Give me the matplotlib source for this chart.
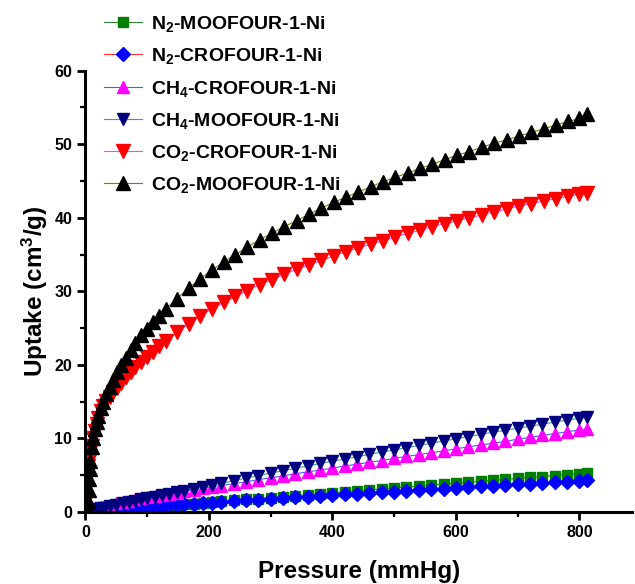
import matplotlib
matplotlib.use("Agg")
import matplotlib.pyplot as plt
from matplotlib.ticker import MultipleLocator

plt.rcParams['font.family'] = ['Liberation Sans', 'DejaVu Sans']
plt.rcParams['font.weight'] = 'bold'
plt.rcParams['mathtext.fontset'] = 'custom'
plt.rcParams['mathtext.rm'] = 'Liberation Sans:bold'
plt.rcParams['mathtext.default'] = 'rm'

# CO2 isotherms (mmHg, cm3/g)
pressure_co2 = [0.5, 1, 2, 3, 4, 5, 6, 7, 8, 10, 12, 15, 18, 21, 25, 29, 34, 39,
                45, 51, 58, 65, 73, 81, 90, 99, 109, 119, 130, 148, 167, 186, 205,
                224, 243, 262, 282, 302, 322, 342, 362, 382, 402, 422, 442, 462,
                482, 502, 522, 542, 562, 582, 602, 622, 642, 662, 682, 702, 722,
                742, 762, 782, 800, 812]
co2_moofour = [0.1, 0.2, 0.3, 0.6, 1.5, 3.0, 4.5, 5.8, 7.0, 8.8, 10.0, 11.3, 12.3,
               13.1, 14.1, 15.0, 16.1, 17.0, 18.0, 19.0, 20.0, 21.0, 22.0, 23.0,
               24.0, 24.9, 25.8, 26.7, 27.6, 29.0, 30.4, 31.7, 32.9, 34.0, 35.0,
               36.0, 37.0, 37.9, 38.8, 39.6, 40.5, 41.3, 42.1, 42.8, 43.5, 44.2,
               44.9, 45.5, 46.1, 46.7, 47.3, 47.9, 48.5, 49.0, 49.6, 50.1, 50.6,
               51.1, 51.6, 52.1, 52.6, 53.1, 53.5, 54.1]
co2_crofour = [1.5, 3.0, 4.5, 5.5, 6.3, 7.0, 7.6, 8.1, 8.5, 9.0, 10.0, 11.0,
               12.0, 12.8, 13.7, 14.4, 15.1, 15.7, 16.3, 16.9, 17.6, 18.3, 19.0,
               19.7, 20.4, 21.1, 21.8, 22.5, 23.3, 24.5, 25.6, 26.7, 27.6, 28.5,
               29.3, 30.1, 30.9, 31.6, 32.3, 33.0, 33.6, 34.2, 34.8, 35.4, 35.9,
               36.4, 36.9, 37.4, 37.9, 38.3, 38.8, 39.2, 39.6, 40.0, 40.4, 40.8,
               41.2, 41.6, 41.9, 42.3, 42.6, 42.9, 43.2, 43.4]

# N2 and CH4 isotherms
pressure_low = [15, 20, 25, 30, 40, 50, 60, 70, 80, 90, 100, 112, 124, 136, 148,
                160, 175, 190, 205, 220, 240, 260, 280, 300, 320, 340, 360, 380,
                400, 420, 440, 460, 480, 500, 520, 540, 560, 580, 600, 620, 640,
                660, 680, 700, 720, 740, 760, 780, 800, 812]
ch4_moofour = [0.3, 0.4, 0.5, 0.6, 0.8, 1.0, 1.2, 1.35, 1.55, 1.7, 1.9, 2.1, 2.3,
               2.5, 2.7, 2.9, 3.15, 3.4, 3.65, 3.9, 4.25, 4.6, 4.95, 5.3, 5.6,
               5.95, 6.25, 6.6, 6.9, 7.2, 7.5, 7.85, 8.15, 8.45, 8.75, 9.05, 9.35,
               9.65, 9.95, 10.25, 10.55, 10.85, 11.1, 11.4, 11.65, 11.95, 12.2,
               12.5, 12.75, 12.9]
ch4_crofour = [0.5, 0.6, 0.7, 0.8, 1.0, 1.2, 1.4, 1.55, 1.7, 1.85, 2.0, 2.15, 2.3,
               2.5, 2.65, 2.8, 3.0, 3.2, 3.4, 3.6, 3.85, 4.1, 4.4, 4.65, 4.9, 5.2,
               5.45, 5.7, 5.95, 6.25, 6.5, 6.75, 7.0, 7.3, 7.55, 7.8, 8.05, 8.3,
               8.6, 8.85, 9.1, 9.35, 9.6, 9.9, 10.15, 10.4, 10.65, 10.9, 11.15,
               11.35]
n2_moofour = [0.1, 0.12, 0.15, 0.2, 0.25, 0.3, 0.35, 0.42, 0.5, 0.57, 0.64, 0.72,
              0.8, 0.88, 0.96, 1.04, 1.14, 1.24, 1.34, 1.44, 1.57, 1.7, 1.83,
              1.96, 2.09, 2.22, 2.35, 2.48, 2.61, 2.74, 2.87, 3.0, 3.13, 3.26,
              3.39, 3.52, 3.65, 3.78, 3.91, 4.04, 4.17, 4.3, 4.43, 4.56, 4.69,
              4.82, 4.95, 5.08, 5.21, 5.29]
n2_crofour = [0.2, 0.25, 0.3, 0.35, 0.4, 0.45, 0.5, 0.55, 0.6, 0.65, 0.7, 0.77,
              0.84, 0.91, 0.98, 1.05, 1.13, 1.21, 1.29, 1.37, 1.48, 1.58, 1.68,
              1.78, 1.88, 1.98, 2.08, 2.18, 2.28, 2.38, 2.48, 2.58, 2.68, 2.78,
              2.88, 2.98, 3.08, 3.18, 3.28, 3.38, 3.48, 3.57, 3.66, 3.75, 3.84,
              3.93, 4.02, 4.11, 4.2, 4.35]

fig = plt.figure(figsize=(6.35, 5.84), dpi=100)
ax = fig.add_axes([0.1346, 0.1233, 0.8604, 0.7557])

# (x, y, label, marker, marker colour, line colour, size)
series = [
    (pressure_low, n2_moofour, 'N$_2$-MOOFOUR-1-Ni', 's', '#008000', '#2e7d2e', 7),
    (pressure_low, n2_crofour, 'N$_2$-CROFOUR-1-Ni', 'D', '#0000ff', '#ff3030', 7),
    (pressure_low, ch4_crofour, 'CH$_4$-CROFOUR-1-Ni', '^', '#ff00ff', '#4060ff', 8),
    (pressure_low, ch4_moofour, 'CH$_4$-MOOFOUR-1-Ni', 'v', '#000080', '#30a0a0', 8),
    (pressure_co2, co2_crofour, 'CO$_2$-CROFOUR-1-Ni', 'v', '#ff0000', '#ff40ff', 10),
    (pressure_co2, co2_moofour, 'CO$_2$-MOOFOUR-1-Ni', '^', '#000000', '#808000', 10),
]
for x, y, label, m, mc, lc, ms in series:
    ax.plot(x, y, color=lc, lw=0.8, marker=m, ms=ms, mfc=mc, mec=mc,
            label=label)

ax.set_xlim(0, 885)
ax.set_ylim(0, 60)
ax.xaxis.set_major_locator(MultipleLocator(200))
ax.xaxis.set_minor_locator(MultipleLocator(100))
ax.yaxis.set_major_locator(MultipleLocator(10))
ax.yaxis.set_minor_locator(MultipleLocator(5))

for s in ['top', 'right']:
    ax.spines[s].set_visible(False)
for s in ['left', 'bottom']:
    ax.spines[s].set_linewidth(2.2)
ax.tick_params(which='major', direction='out', length=6, width=2, labelsize=11.5)
ax.tick_params(which='minor', direction='out', length=3.5, width=1.6)
for lab in ax.get_xticklabels() + ax.get_yticklabels():
    lab.set_fontweight('bold')

ax.set_xlabel('Pressure (mmHg)', fontsize=17.5, fontweight='bold', labelpad=14)
ax.set_ylabel('Uptake (cm$^3$/g)', fontsize=17.5, fontweight='bold', labelpad=3)

ax.legend(loc='upper left', bbox_to_anchor=(0.163, 0.976),
          bbox_transform=fig.transFigure, frameon=False, fontsize=14,
          handlelength=2.0, handletextpad=0.45, labelspacing=0.63,
          borderpad=0, borderaxespad=0, markerscale=1.0)

fig.savefig('out.png', dpi=100)
